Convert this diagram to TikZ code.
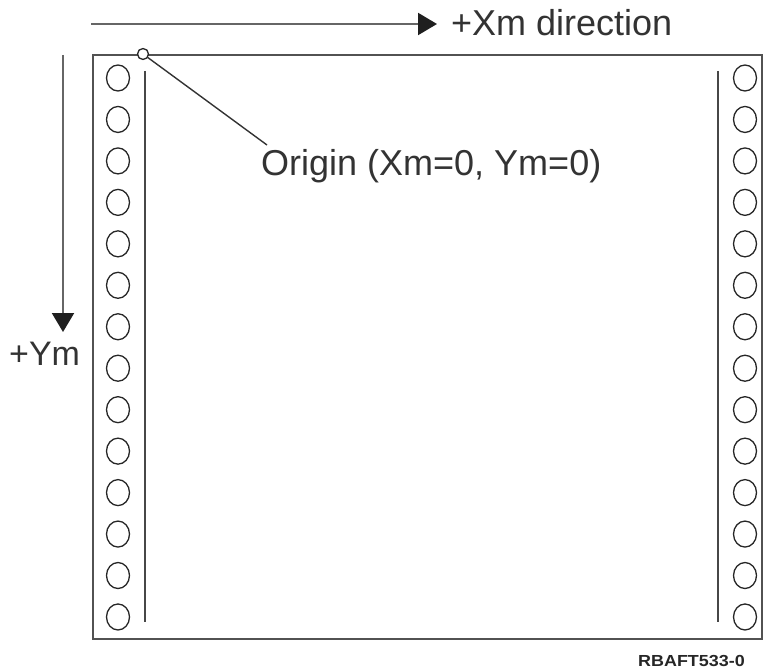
\documentclass[tikz,border=0pt]{standalone}
\usepackage{fontspec}
\setmainfont{Liberation Sans}
\usetikzlibrary{arrows.meta,shapes.geometric}
\tikzset{
  axisline/.style={draw=black!60, line width=2.2pt, -{Triangle[length=19pt,width=22pt,color=black!88]}},
  sheet/.style={draw=black!68, line width=2.2pt},
  tractor/.style={draw=black!72, line width=1.6pt},
  hole/.style={draw=black!85, line width=1.3pt, ellipse, minimum width=23pt, minimum height=26pt, inner sep=0pt},
  lbl/.style={inner sep=0pt, anchor=base west, font=\fontsize{36}{40}\selectfont, text=black!80},
}
\begin{document}
\begin{tikzpicture}[x=1pt,y=-1pt]
\useasboundingbox (0,0) rectangle (763,669);
\clip (0,0) rectangle (763,669);
% axes
\coordinate (xs) at (91,24);
\coordinate (xe) at (437,24);
\coordinate (ys) at (63,55);
\coordinate (ye) at (63,332);
\draw[axisline] (xs) -- (xe);
\draw[axisline] (ys) -- (ye);
\node[lbl] (xlab) at (451,36) {+Xm direction};
\node[lbl, font=\fontsize{34}{38}\selectfont] (ylab) at (9,365) {+Ym};
% sheet
\draw[sheet] (93,55) rectangle (762,639);
\draw[tractor] (145,71) coordinate (la) -- (145,622) coordinate (lb);
\draw[tractor] (718,71) coordinate (ra) -- (718,622) coordinate (rb);
\foreach \i in {0,...,13}{
  \node[hole] (L\i) at (118,78+41.46*\i) {};
  \node[hole] (R\i) at (745,78+41.46*\i) {};
}
% origin
\node[draw=black!85, line width=1.3pt, circle, fill=white, minimum size=11pt, inner sep=0pt] (org) at (143,54) {};
\coordinate (lead) at (267,145);
\draw[black!80, line width=1.4pt] (org) -- (lead);
\node[lbl] (olab) at (261,175) {Origin (Xm=0, Ym=0)};
% figure code
\node[inner sep=0pt, anchor=base west, font=\bfseries\fontsize{16}{18}\selectfont, xscale=1.12, text=black!85] (code) at (638,666) {RBAFT533-0};
\end{tikzpicture}
\end{document}
